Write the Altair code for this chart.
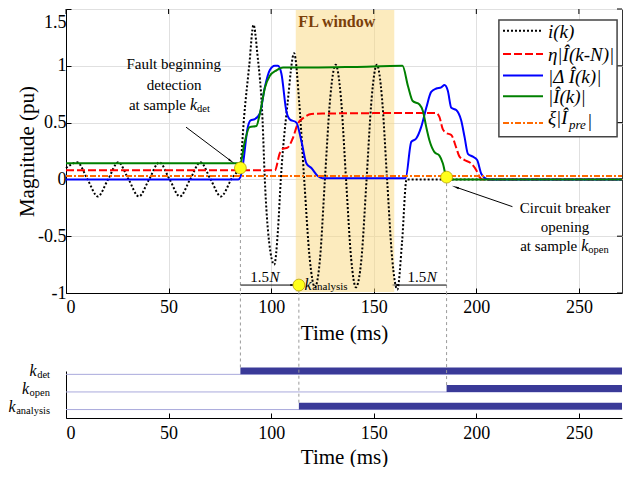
import altair as alt
import pandas as pd

SERIF = "Liberation Serif"
X_END = 271
Y_MIN, Y_MAX = -1, 1.5
W, H_TOP, H_BOT, GAP = 556, 284, 47, 78

# ---------------- data ----------------
ik_t = [0, 5.5, 10.5, 15.5, 20.5, 25.5, 30.5, 35.5, 40.5, 45.5, 50.5, 55.5, 60.5, 65.5,
        70.5, 75.5, 80.5, 85, 86.8, 89.3, 91.4, 93.3, 95.8, 96.9, 99, 101.5, 103.3, 104.7,
        108, 111.2, 113.7, 116.1, 118.8, 121.3, 123.8, 126.2, 128.8, 131.4, 134, 136.5,
        139, 141.3, 144, 146.5, 149, 151.5, 154, 156.5, 159, 161.5, 163.8, 166, X_END]
ik_v = [0.1, 0.15, 0, -0.15, 0, 0.15, 0, -0.15, 0, 0.15, 0, -0.15, 0, 0.15,
        0, -0.15, 0, 0.14, 0.55, 1.0, 1.36, 1.1, 0.52, 0.0, -0.55, -0.75, -0.45, 0.0,
        0.67, 1.11, 0.67, 0.0, -0.7, -0.95, -0.7, 0.0, 0.72, 1.01, 0.72, 0.0,
        -0.7, -0.95, -0.7, 0.0, 0.72, 1.01, 0.72, 0.0, -0.7, -0.97, -0.55, 0.0, 0.0]

eta_t = [0, 101.8, 104.2, 105.8, 108, 110.5, 113, 116.4, 119.6, 125, 180.5, 182, 183.7,
         185.3, 187.8, 190.2, 191.8, 194.3, 197.5, 200, 201.6, 203, X_END]
eta_v = [0.08, 0.08, 0.23, 0.27, 0.28, 0.36, 0.49, 0.55, 0.575, 0.58, 0.585, 0.55, 0.44,
         0.41, 0.39, 0.28, 0.2, 0.17, 0.14, 0.08, 0.02, 0.0, 0.0]

dI_t = [0, 84, 85, 86.3, 88.6, 90, 92, 94.5, 96.9, 99.3, 101.8, 103.3, 105, 107.4, 109,
        112.3, 114.7, 117.2, 119.6, 122.7, 125, 165.5, 168.3, 170.7, 173.1, 175.6, 178,
        180.5, 182.9, 184.5, 186.1, 187.8, 190.2, 192.6, 194.3, 195.9, 198.3, 200.4,
        202.4, 204, 206, X_END]
dI_v = [0.0, 0.0, 0.02, 0.14, 0.46, 0.52, 0.53, 0.58, 0.81, 0.96, 1.0, 1.0, 0.93, 0.6, 0.53,
        0.5, 0.34, 0.14, 0.1, 0.03, 0.01, 0.01, 0.33, 0.36, 0.46, 0.63, 0.77,
        0.8, 0.81, 0.83, 0.78, 0.63, 0.61, 0.52, 0.37, 0.225, 0.2, 0.17,
        0.05, 0.015, 0.0, 0.0]

I_t = [0, 85, 87, 89.5, 92.8, 94.5, 97, 99.3, 102.6, 105.8, 120, 140, 164, 166.7, 169,
       172.3, 174, 175.6, 177.2, 179.6, 182, 183.7, 185.5, 186, X_END]
I_v = [0.143, 0.143, 0.32, 0.46, 0.47, 0.58, 0.81, 0.91, 0.96, 0.985, 0.985, 0.99, 1.0,
       0.82, 0.69, 0.66, 0.6, 0.46, 0.34, 0.24, 0.21, 0.14, 0.01, 0.0, 0.0]

pre_t = [0, X_END]
pre_v = [0.03, 0.03]

event_names = ["det", "open", "analysis"]
event_ms = [85, 185.5, 113.5]
event_mag = [0.10, 0.02, -0.93]

fl_window = [112, 160]
x_ticks = [0, 50, 100, 150, 200, 250]
y_ticks = [-1, -0.5, 0, 0.5, 1, 1.5]

# ---------------- helpers ----------------
xsc = alt.Scale(domain=[0, X_END], nice=False, zero=False)
ysc = alt.Scale(domain=[Y_MIN, Y_MAX], nice=False, zero=False)
one = pd.DataFrame({"_": [0]})
INWARD = alt.ExprRef(expr="-5")


def xd(v):
    return alt.XDatum(v, type="quantitative", scale=xsc, axis=None)


def yd(v):
    return alt.YDatum(v, type="quantitative", scale=ysc, axis=None)


def txt(t, v, s, size=15, align="center", style="normal", weight="normal",
        color="black", dx=0, dy=0, baseline="alphabetic"):
    return alt.Chart(one).mark_text(
        text=s, font=SERIF, fontSize=size, align=align, fontStyle=style,
        fontWeight=weight, color=color, dx=dx, dy=dy, baseline=baseline
    ).encode(x=xd(t), y=yd(v))


def arrow(t0, v0, t1, v1, ang):
    seg = alt.Chart(one).mark_rule(color="black", strokeWidth=1).encode(
        x=xd(t0), x2=alt.datum(t1), y=yd(v0), y2=alt.datum(v1))
    head = alt.Chart(one).mark_point(shape="wedge", filled=True, color="black",
                                     size=70, angle=ang, opacity=1).encode(
        x=xd(t1), y=yd(v1))
    return [seg, head]


ax_style = dict(labelFont=SERIF, labelFontSize=18, labelColor="black",
                titleFont=SERIF, titleFontSize=21, titleFontWeight="normal",
                titleColor="black", domainColor="black", domainWidth=1,
                tickColor="black", tickSize=INWARD, tickWidth=1)

x_axis_main = alt.Axis(orient="bottom", values=x_ticks, format="d", title="Time (ms)",
                       grid=True, gridColor="#e0e0e0", labelPadding=10,
                       titlePadding=6, **ax_style)
y_axis_main = alt.Axis(orient="left", values=y_ticks, title="Magnitude (pu)",
                       grid=True, gridColor="#e0e0e0", labelPadding=5, titlePadding=0,
                       labelExpr="datum.value == 0 ? '0' : (datum.value < 0 ? '-' + abs(datum.value) : '' + datum.value)",
                       labelBaseline={"condition": {"test": "datum.value == 1.5", "value": "top"},
                                      "value": "middle"},
                       labelOffset={"condition": {"test": "datum.value == 1.5", "value": 4},
                                    "value": 0},
                       **ax_style)

# ---------------- top panel ----------------
layers = []

fl_df = pd.DataFrame({"a": [fl_window[0]], "b": [fl_window[1]]})
layers.append(alt.Chart(fl_df).mark_rect(color="#F9D77E", opacity=0.5, yOffset=-1, y2Offset=1).encode(
    x=alt.X("a:Q", scale=xsc, axis=None), x2="b:Q", y=yd(Y_MIN), y2=alt.datum(Y_MAX)))
layers.append(txt((fl_window[0] + fl_window[1]) / 2 - 4, 1.345, "FL window", size=16,
                  weight="bold", color="#7B3F0A"))

# inward ticks on the top and right frame edges, from the tick lists
layers.append(alt.Chart(pd.DataFrame({"t": x_ticks})).mark_rule(color="black", strokeWidth=1).encode(
    x=alt.X("t:Q", scale=xsc, axis=None), y=yd(Y_MAX), y2=alt.value(5)))
layers.append(alt.Chart(pd.DataFrame({"v": y_ticks})).mark_rule(color="black", strokeWidth=1).encode(
    y=alt.Y("v:Q", scale=ysc, axis=None), x=xd(X_END), x2=alt.value(W - 5)))

ev_df = pd.DataFrame({"name": event_names, "t": event_ms, "v": event_mag})
layers.append(alt.Chart(ev_df).mark_rule(color="#9a9a9a", strokeDash=[3, 3], strokeWidth=1).encode(
    x=alt.X("t:Q", scale=xsc, axis=None), y=alt.Y("v:Q", scale=ysc, axis=None), y2=alt.datum(Y_MIN)))

series = [
    ("i(k)", ik_t, ik_v, "black", [2, 2], None, None),
    ("eta", eta_t, eta_v, "#FF0000", [8, 3], None, None),
    ("dI", dI_t, dI_v, "#0000FF", None, None, None),
    ("I", I_t, I_v, "#008000", None, None, None),
    ("pre", pre_t, pre_v, "#FF6A00", [6, 2, 2, 2], x_axis_main, y_axis_main),
]
for name, t, v, col, dash, axx, axy in series:
    kw = dict(color=col, strokeWidth=2, interpolate="monotone")
    if dash:
        kw["strokeDash"] = dash
    layers.append(alt.Chart(pd.DataFrame({"t": t, "v": v})).mark_line(**kw).encode(
        x=alt.X("t:Q", scale=xsc, axis=axx), y=alt.Y("v:Q", scale=ysc, axis=axy)))

# annotations
layers.append(txt(52.5, 0.973, "Fault beginning"))
layers.append(txt(52.7, 0.783, "detection"))
layers.append(txt(58.5, 0.614, "at sample", align="right"))
layers.append(txt(58.5, 0.614, "k", size=16, align="left", style="italic", dx=4))
layers.append(txt(58.5, 0.614, "det", size=10.5, align="left", dx=11, dy=2))
layers += arrow(58.5, 0.46, 80.2, 0.165, 125.7)

layers.append(txt(243.2, -0.295, "Circuit breaker"))
layers.append(txt(243.2, -0.461, "opening"))
layers.append(txt(249.2, -0.630, "at sample", align="right"))
layers.append(txt(249.2, -0.630, "k", size=16, align="left", style="italic", dx=4))
layers.append(txt(249.2, -0.630, "open", size=10.5, align="left", dx=11, dy=2))
layers += arrow(217.6, -0.24, 190.3, -0.07, 289)

layers += arrow(event_ms[0], -0.93, 110.5, -0.93, 90)
layers += arrow(event_ms[1], -0.93, 161, -0.93, 270)
layers.append(txt(99, -0.901, "1.5", align="right"))
layers.append(txt(99, -0.901, "N", align="left", style="italic", dx=0.5))
layers.append(txt(175.6, -0.901, "1.5", align="right"))
layers.append(txt(175.6, -0.901, "N", align="left", style="italic", dx=0.5))
layers.append(txt(116.3, -0.971, "k", size=16, align="left", style="italic"))
layers.append(txt(120.0, -0.971, "analysis", size=11, align="left"))

layers.append(alt.Chart(ev_df).mark_point(filled=True, fill="#FFFF1A", stroke="#B8A200",
                                         strokeWidth=0.8, size=140, opacity=1).encode(
    x=alt.X("t:Q", scale=xsc, axis=None), y=alt.Y("v:Q", scale=ysc, axis=None)))

# legend (drawn by hand)
LEG_BOX = (211.0, 268.6)
LEG_X0, LEG_X1, LEG_TX = 213.0, 232.5, 234.9
leg_rows = [1.308, 1.104, 0.914, 0.731, 0.497]
leg_labels = ["i(k)", "η|Î(k-N)|", "|Δ Î(k)|", "|Î(k)|", "ξ|Î"]
layers.append(alt.Chart(one).mark_rect(fill="white", stroke="#444444", strokeWidth=1.5).encode(
    x=xd(LEG_BOX[0]), x2=alt.datum(LEG_BOX[1]), y=yd(1.404), y2=alt.datum(0.375)))
for (name, t, v, col, dash, axx, axy), ry, lab in zip(series, leg_rows, leg_labels):
    kw = dict(color=col, strokeWidth=2)
    if dash:
        kw["strokeDash"] = dash
    layers.append(alt.Chart(one).mark_rule(**kw).encode(
        x=xd(LEG_X0), x2=alt.datum(LEG_X1), y=yd(ry)))
    dy = -5 if name == "pre" else 1
    layers.append(txt(LEG_TX, ry, lab, size=19, align="left", style="italic",
                      baseline="middle", dy=dy))
layers.append(txt(LEG_TX, leg_rows[4], "pre", size=13, align="left", style="italic",
                  baseline="middle", dx=21, dy=2))
layers.append(txt(LEG_TX, leg_rows[4], "|", size=19, align="left", style="italic",
                  baseline="middle", dx=39, dy=-2))

top = alt.layer(*layers).resolve_axis(x="independent", y="independent").properties(
    width=W, height=H_TOP, view=alt.ViewBackground(stroke="#333333", strokeWidth=1))

# ---------------- bottom panel ----------------
BAR_H = 0.39
ysc2 = alt.Scale(domain=[-0.48, 2.19], nice=False, zero=False)
rows = pd.DataFrame({"name": event_names, "start": event_ms})
rows["level"] = [len(event_names) - 1 - i for i in range(len(event_names))]
rows["top"] = rows["level"] + BAR_H

x_axis_bot = alt.Axis(orient="bottom", values=x_ticks, format="d", title="Time (ms)",
                      grid=False, labelPadding=11, titlePadding=4, **ax_style)
y_axis_bot = alt.Axis(orient="left", labels=False, ticks=False, grid=False, title="",
                      domainColor="black", domainWidth=1)

b_layers = [
    alt.Chart(rows).mark_rule(color="#A9A9DC", strokeWidth=1).encode(
        x=alt.XDatum(0, type="quantitative", scale=xsc, axis=None), x2=alt.datum(X_END),
        y=alt.Y("level:Q", scale=ysc2, axis=y_axis_bot)),
    alt.Chart(rows).mark_rect(color="#3A3A98").encode(
        x=alt.X("start:Q", scale=xsc, axis=x_axis_bot), x2=alt.datum(X_END),
        y=alt.Y("level:Q", scale=ysc2, axis=None), y2="top:Q"),
    alt.Chart(rows).mark_rule(color="#9a9a9a", strokeDash=[3, 3], strokeWidth=1).encode(
        x=alt.X("start:Q", scale=xsc, axis=None),
        y=alt.Y("top:Q", scale=ysc2, axis=None), y2=alt.value(-GAP)),
]
sub_w = {"det": 12.8, "open": 20.4, "analysis": 33.8}
for _, r in rows.iterrows():
    one_row = pd.DataFrame({"level": [r["level"]]})
    b_layers.append(alt.Chart(one_row).mark_text(
        text=r["name"], font=SERIF, fontSize=10.5, align="right", baseline="alphabetic", dy=4
    ).encode(x=alt.value(-16), y=alt.Y("level:Q", scale=ysc2, axis=None)))
    b_layers.append(alt.Chart(one_row).mark_text(
        text="k", font=SERIF, fontSize=16, fontStyle="italic", align="right",
        baseline="alphabetic", dy=2
    ).encode(x=alt.value(-16.5 - sub_w[r["name"]]), y=alt.Y("level:Q", scale=ysc2, axis=None)))

bottom = alt.layer(*b_layers).resolve_axis(x="independent", y="independent").properties(
    width=W, height=H_BOT, view=alt.ViewBackground(strokeWidth=0))

chart = alt.vconcat(top, bottom, spacing=GAP, bounds="flush").properties(
    padding={"left": 0, "top": 0, "right": 0, "bottom": 0}
).configure(font=SERIF).configure_axis(
    labelFont=SERIF, titleFont=SERIF, titleFontWeight="normal")

chart.save("out.html", embed_options={"renderer": "svg", "actions": False})
